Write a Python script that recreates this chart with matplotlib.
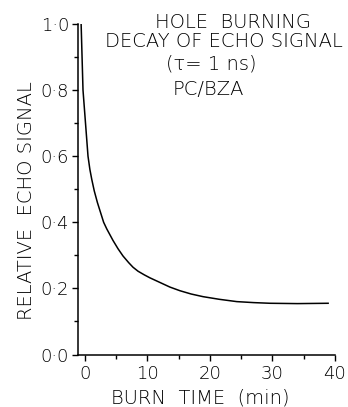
import matplotlib
matplotlib.use("Agg")
import matplotlib.pyplot as plt
from matplotlib.ticker import MultipleLocator, FuncFormatter

# valores
burn_time = [-0.6, -0.45, -0.3, 0.1, 0.5, 0.8, 1.1, 1.5, 2.0, 2.5, 3.0, 3.5,
             4.5, 5.3, 6.1, 7.0, 7.7, 8.5, 9.5, 10.4, 12.0, 13.6, 15.2, 17.0,
             18.9, 21.5, 24.3, 27.0, 29.6, 34.0, 38.9]
echo = [1.0, 0.9, 0.8, 0.7, 0.6, 0.56, 0.53, 0.495, 0.46, 0.43, 0.40, 0.38,
        0.345, 0.32, 0.298, 0.278, 0.264, 0.252, 0.241, 0.232, 0.218, 0.204,
        0.193, 0.183, 0.175, 0.167, 0.160, 0.157, 0.155, 0.154, 0.155]

x_ticks = [0, 10, 20, 30, 40]
y_ticks = [0.0, 0.2, 0.4, 0.6, 0.8, 1.0]
info = ["HOLE  BURNING", "DECAY OF ECHO SIGNAL", "(\u03c4= 1 ns)", "PC/BZA"]

plt.rcParams['font.family'] = ['DejaVu Sans']
plt.rcParams['font.weight'] = 200

W, H = 348, 407
fig = plt.figure(figsize=(W / 100, H / 100), dpi=100)
ax = fig.add_axes([78 / W, 1 - 354.5 / H, 257 / W, 330.5 / H])

ax.plot(burn_time, echo, color='black', lw=1.1)

ax.set_xlim(-1.1, 40)
ax.set_ylim(0, 1.0)
ax.set_xticks(x_ticks)
ax.set_yticks(y_ticks)
ax.xaxis.set_minor_locator(MultipleLocator(5))
ax.yaxis.set_minor_locator(MultipleLocator(0.1))
ax.yaxis.set_major_formatter(FuncFormatter(lambda v, p: f"{v:.1f}".replace('.', '\u00b7')))

for s in ['top', 'right']:
    ax.spines[s].set_visible(False)
for s in ['left', 'bottom']:
    ax.spines[s].set_linewidth(1.1)

ax.tick_params(which='both', direction='out', width=1.0, labelsize=13, colors='black')
ax.tick_params(axis='y', which='major', length=4.5, pad=2)
ax.tick_params(axis='x', which='major', length=4, pad=3.5)
ax.tick_params(which='minor', length=3)

# etiquetas de ejes
fig.text(32 / W, 1 - 201 / H, "RELATIVE  ECHO SIGNAL", fontsize=14, rotation=90,
         rotation_mode='anchor', ha='center', va='baseline')
fig.text(200 / W, 1 - 404 / H, "BURN  TIME  (min)", fontsize=14,
         ha='center', va='baseline')

# bloque de texto arriba a la derecha
xs = [233, 224, 211, 208]
ys = [28, 47, 69, 95]
for t, xp, yp in zip(info, xs, ys):
    fig.text(xp / W, 1 - yp / H, t, fontsize=14, ha='center', va='baseline')

fig.savefig("out.png", dpi=100)
